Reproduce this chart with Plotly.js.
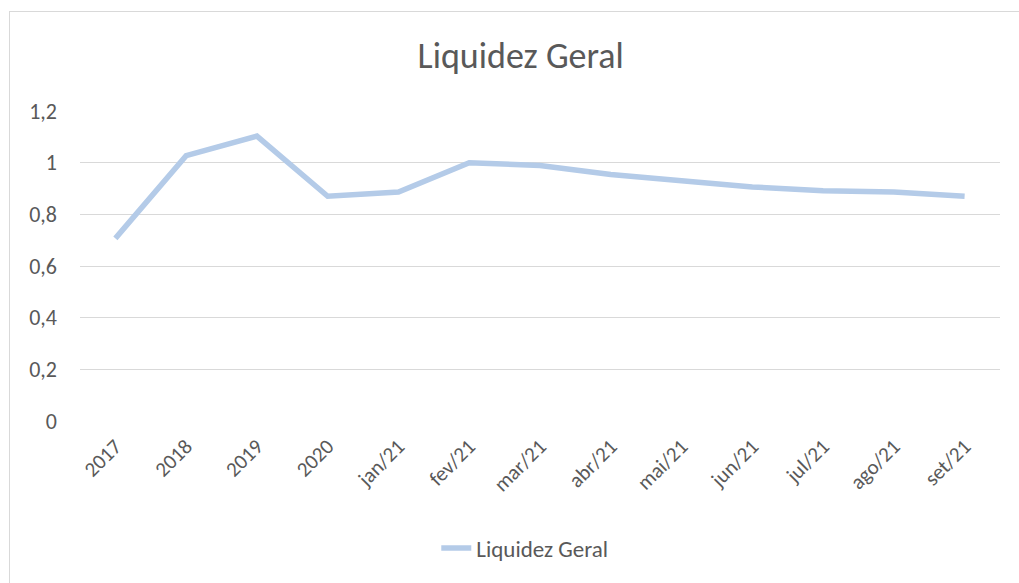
<!DOCTYPE html>
<html>
<head>
<meta charset="utf-8">
<script src="https://cdn.plot.ly/plotly-3.0.1.min.js"></script>
<style>
html,body{margin:0;padding:0;background:#fff;overflow:hidden;}
#frame{position:absolute;left:9px;top:11px;width:1100px;height:700px;border:1px solid #d9d9d9;pointer-events:none;z-index:5;}
#chart{width:1019px;height:583px;}
</style>
</head>
<body>
<div id="frame"></div>
<div id="chart"></div>
<script>
const categories = ['2017','2018','2019','2020','jan/21','fev/21','mar/21','abr/21','mai/21','jun/21','jul/21','ago/21','set/21'];
const liquidezGeral = [0.707, 1.027, 1.103, 0.870, 0.886, 1.000, 0.989, 0.954, 0.930, 0.906, 0.891, 0.886, 0.870];
const yTicks = [0, 0.2, 0.4, 0.6, 0.8, 1, 1.2];

const fontFam = 'Carlito, Calibri, "Open Sans", "Liberation Sans", sans-serif';

Plotly.newPlot('chart', [{
  x: categories,
  y: liquidezGeral,
  type: 'scatter',
  mode: 'lines',
  name: 'Liquidez Geral',
  line: {color: '#b4cbe8', width: 5.5, shape: 'linear'}
}], {
  width: 1019, height: 583,
  paper_bgcolor: '#ffffff', plot_bgcolor: '#ffffff',
  separators: ',.',
  font: {family: fontFam, color: '#595959', size: 22},
  title: {text: 'Liquidez Geral', font: {size: 36, color: '#595959', family: fontFam, weight: 300}, x: 0.511, xref: 'container', y: 0.905, yanchor: 'middle'},
  margin: {l: 80, r: 19, t: 111, b: 162},
  xaxis: {
    type: 'category',
    range: [-0.5, 12.5],
    tickangle: -45,
    showgrid: false, showline: false, zeroline: false,
    ticks: '', tickfont: {size: 21, color: '#595959'},
    ticklabelstandoff: 8
  },
  yaxis: {
    range: [0, 1.2],
    tickvals: yTicks,
    showgrid: true, gridcolor: '#d9d9d9', gridwidth: 1.3,
    zeroline: false, showline: false,
    ticks: '', tickfont: {size: 22, color: '#595959'},
    ticklabelstandoff: 22
  },
  showlegend: true,
  legend: {orientation: 'h', x: 0.515, xref: 'container', xanchor: 'center', y: 0.06, yref: 'container', yanchor: 'middle', font: {size: 23, color: '#595959'}}
}, {displayModeBar: false});
</script>
</body>
</html>
